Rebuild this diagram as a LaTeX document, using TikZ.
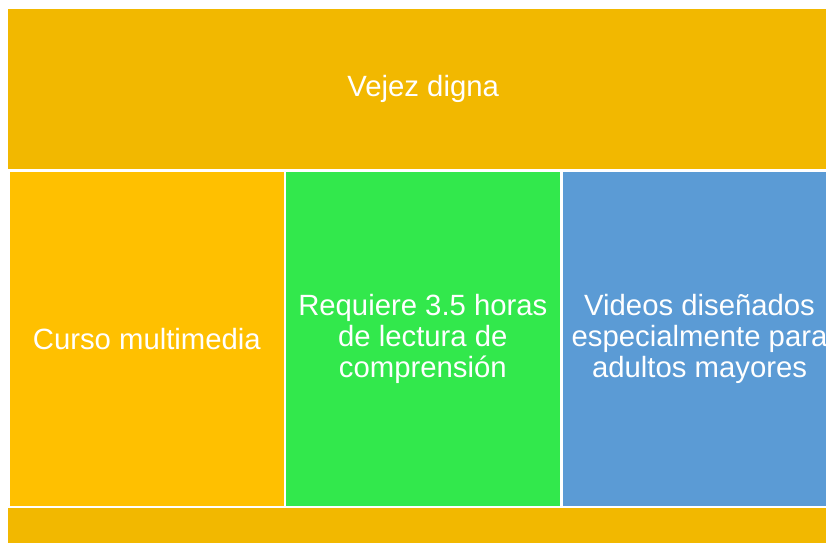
\documentclass[tikz,border=0pt]{standalone}
\usepackage{fontspec}
\setmainfont{Liberation Sans}
\definecolor{bandgold}{HTML}{F2B800}
\definecolor{cursogold}{HTML}{FFC000}
\definecolor{lecturagreen}{HTML}{32E84C}
\definecolor{videoblue}{HTML}{5B9BD5}
\begin{document}
\begin{tikzpicture}[x=1pt,y=-1pt,
  block/.style={anchor=north west,inner sep=0pt,align=center,text=white,
    font=\fontsize{29.3}{31}\selectfont},
  column/.style={block,minimum width=273.3pt,minimum height=334.7pt}]
\useasboundingbox (0,0) rectangle (826,542);
\clip (0,0) rectangle (826,542);
\fill[white] (0,0) rectangle (826,542);
\node[block,fill=bandgold,minimum width=830pt,minimum height=159.5pt] (vejez) at (8,9) {Vejez digna};
\node[column,fill=cursogold] (curso) at (10,171.3) {Curso multimedia};
\node[column,fill=lecturagreen] (lectura) at (286,171.3) {Requiere 3.5 horas\\de lectura de\\comprensión};
\node[column,fill=videoblue] (videos) at (562.7,171.3) {Videos diseñados\\especialmente para\\adultos mayores};
\node[block,fill=bandgold,minimum width=830pt,minimum height=40pt] (base) at (8,508) {};
\end{tikzpicture}
\end{document}
